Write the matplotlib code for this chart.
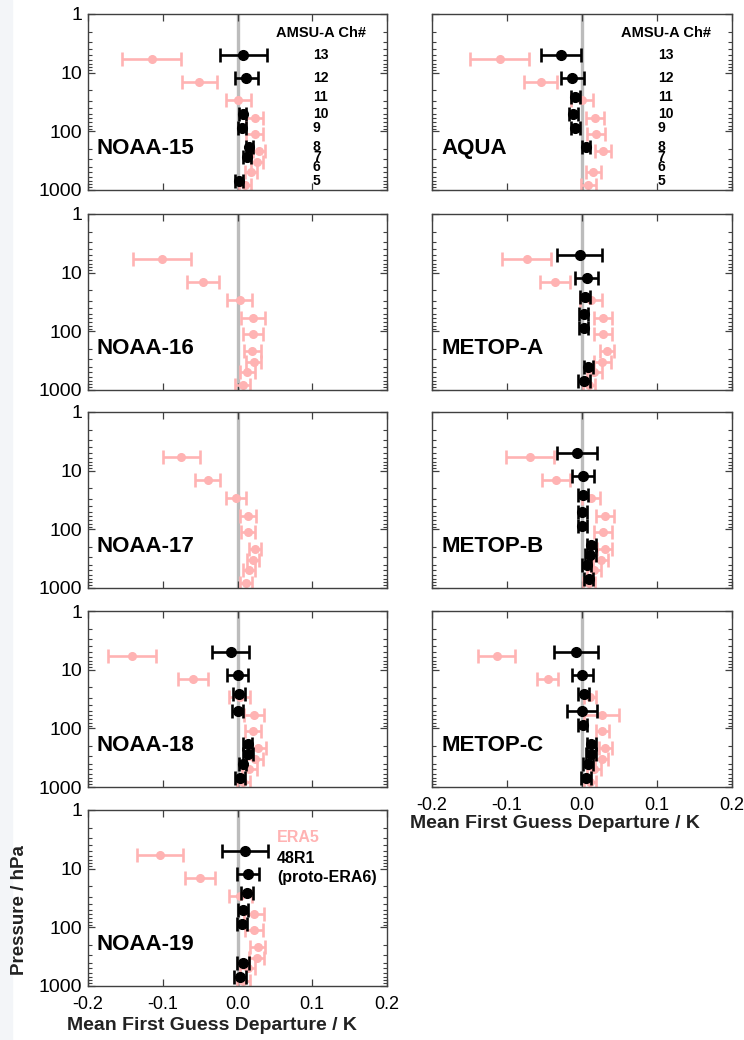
import numpy as np
import matplotlib
matplotlib.use("Agg")
import matplotlib.pyplot as plt
from matplotlib.ticker import LogLocator, NullFormatter, FixedLocator

plt.rcParams['font.family'] = ['Liberation Sans', 'DejaVu Sans']
plt.rcParams['axes.unicode_minus'] = False

nan = np.nan

# AMSU-A channels, top (13) to bottom (5)
channels = ['13', '12', '11', '10', '9', '8', '7', '6', '5']
era5_p = [5.9, 14.2, 29, 59, 109, 213, 328, 486, 828]
r48_p = [5.0, 12.5, 25.6, 51, 89, 182, 269, 410, 700]

satellites = ['NOAA-15', 'AQUA', 'NOAA-16', 'METOP-A', 'NOAA-17',
              'METOP-B', 'NOAA-18', 'METOP-C', 'NOAA-19']

era5_mean = [
    [-0.115, -0.051, 0.001, 0.023, 0.023, 0.029, 0.026, 0.018, 0.010],
    [-0.110, -0.055, 0.000, 0.017, 0.019, 0.028, nan, 0.015, 0.008],
    [-0.101, -0.046, 0.003, 0.021, 0.021, 0.020, 0.022, 0.013, 0.007],
    [-0.074, -0.036, 0.012, 0.028, 0.028, 0.033, 0.027, 0.016, 0.009],
    [-0.075, -0.040, -0.002, 0.014, 0.014, 0.023, 0.021, 0.016, 0.012],
    [-0.069, -0.035, 0.012, 0.030, 0.028, 0.030, 0.025, 0.016, 0.009],
    [-0.141, -0.059, 0.003, 0.022, 0.021, 0.028, 0.023, 0.016, 0.008],
    [-0.114, -0.046, 0.010, 0.026, 0.027, 0.031, 0.026, 0.016, 0.010],
    [-0.104, -0.050, 0.004, 0.022, 0.022, 0.027, 0.026, 0.014, 0.008],
]
era5_err = [
    [0.039, 0.023, 0.017, 0.011, 0.011, 0.008, 0.008, 0.008, 0.008],
    [0.039, 0.022, 0.015, 0.012, 0.012, 0.011, nan, 0.010, 0.010],
    [0.039, 0.021, 0.017, 0.016, 0.013, 0.011, 0.010, 0.010, 0.010],
    [0.033, 0.020, 0.015, 0.012, 0.012, 0.009, 0.011, 0.010, 0.008],
    [0.025, 0.017, 0.014, 0.011, 0.009, 0.008, 0.008, 0.008, 0.008],
    [0.032, 0.019, 0.012, 0.012, 0.012, 0.010, 0.010, 0.009, 0.008],
    [0.032, 0.020, 0.014, 0.013, 0.011, 0.010, 0.011, 0.010, 0.009],
    [0.025, 0.014, 0.008, 0.023, 0.009, 0.009, 0.009, 0.009, 0.008],
    [0.031, 0.020, 0.015, 0.013, 0.012, 0.010, 0.010, 0.010, 0.009],
]
r48_mean = [
    [0.008, 0.012, nan, 0.007, 0.006, 0.016, 0.013, nan, 0.002],
    [-0.028, -0.013, -0.009, -0.012, -0.009, 0.005, nan, nan, nan],
    [nan] * 9,
    [-0.003, 0.006, 0.004, 0.002, 0.002, nan, nan, 0.008, 0.002],
    [nan] * 9,
    [-0.007, 0.001, 0.001, 0.000, 0.000, 0.012, 0.011, 0.006, 0.009],
    [-0.009, 0.000, 0.002, 0.000, nan, 0.014, 0.014, 0.007, 0.003],
    [-0.008, 0.000, 0.002, 0.000, 0.001, 0.012, 0.012, 0.008, 0.005],
    [0.010, 0.014, 0.013, 0.007, 0.006, nan, nan, 0.007, 0.003],
]
r48_err = [
    [0.032, 0.016, nan, 0.005, 0.005, 0.005, 0.005, nan, 0.006],
    [0.027, 0.015, 0.006, 0.006, 0.006, 0.005, nan, nan, nan],
    [nan] * 9,
    [0.030, 0.015, 0.007, 0.006, 0.006, nan, nan, 0.006, 0.008],
    [nan] * 9,
    [0.027, 0.015, 0.007, 0.006, 0.006, 0.006, 0.007, 0.006, 0.006],
    [0.025, 0.014, 0.008, 0.007, nan, 0.006, 0.007, 0.005, 0.007],
    [0.029, 0.014, 0.007, 0.020, 0.006, 0.006, 0.007, 0.007, 0.007],
    [0.031, 0.015, 0.008, 0.007, 0.007, nan, nan, 0.008, 0.008],
]

pink = '#ffb3b3'
W, H = 744, 1040
fig = plt.figure(figsize=(W / 100, H / 100), dpi=100)
fig.patches.append(plt.Rectangle((0, 0), 12 / W, 1, transform=fig.transFigure,
                                 color='#f3f5f8', zorder=-1))

col_x = [88, 432]
col_w = [299, 300]
row_top = [14, 214, 412, 611, 810]
ax_h = 176

for i, sat in enumerate(satellites):
    row, col = i // 2, i % 2
    left = col_x[col] / W
    bottom = 1 - (row_top[row] + ax_h) / H
    ax = fig.add_axes([left, bottom, col_w[col] / W, ax_h / H])

    ax.axvline(0, color='#bcbcbc', lw=2.4, zorder=1)
    ax.errorbar(era5_mean[i], era5_p, xerr=era5_err[i], fmt='o', color=pink,
                ms=5.5, elinewidth=1.9, capsize=5, capthick=1.9, zorder=2)
    ax.errorbar(r48_mean[i], r48_p, xerr=r48_err[i], fmt='o', color='black',
                ms=7, elinewidth=1.9, capsize=5, capthick=1.9, zorder=3)

    ax.set_yscale('log')
    ax.set_ylim(1000, 1)
    ax.set_xlim(-0.2, 0.2)
    ax.xaxis.set_major_locator(FixedLocator([-0.2, -0.1, 0.0, 0.1, 0.2]))
    ax.yaxis.set_major_locator(FixedLocator([1, 10, 100, 1000]))
    ax.yaxis.set_minor_locator(LogLocator(base=10, subs=np.arange(2, 10)))
    ax.yaxis.set_minor_formatter(NullFormatter())
    ax.tick_params(which='both', direction='in', top=True, right=True,
                   color='#404040')
    ax.tick_params(which='major', length=5, width=0.9)
    ax.tick_params(which='minor', length=3, width=0.8)
    ax.tick_params(axis='y', labelsize=14, pad=4)
    ax.tick_params(axis='x', labelsize=13, pad=7)
    for s in ax.spines.values():
        s.set_color('#404040')
        s.set_linewidth(1.0)

    if col == 0:
        ax.set_yticklabels(['1', '10', '100', '1000'])
    else:
        ax.set_yticklabels([])
    if sat in ('METOP-C', 'NOAA-19'):
        ax.set_xticklabels(['-0.2', '-0.1', '0.0', '0.1', '0.2'])
    else:
        ax.set_xticklabels([])

    ax.text(0.03, 0.235, sat, transform=ax.transAxes, fontsize=16,
            fontweight='bold', va='center', ha='left')

    if sat in ('NOAA-15', 'AQUA'):
        ax.text(0.052, 2.1, 'AMSU-A Ch#', fontsize=10.5, fontweight='bold',
                va='center', ha='left')
        for ch, p in zip(channels, r48_p):
            ax.text(0.101, p, ch, fontsize=10, fontweight='bold',
                    va='center', ha='left')

    if sat == 'NOAA-19':
        ax.text(0.053, 2.9, 'ERA5', color=pink, fontsize=11.5,
                fontweight='bold', va='center', ha='left')
        ax.text(0.053, 6.6, '48R1', color='black', fontsize=11.5,
                fontweight='bold', va='center', ha='left')
        ax.text(0.053, 14.4, '(proto-ERA6)', color='black', fontsize=11.5,
                fontweight='bold', va='center', ha='left')

xlabel = 'Mean First Guess Departure / K'
fig.text(212 / W, 1 - 1025 / H, xlabel, fontsize=14, fontweight='bold',
         color='#222222', ha='center', va='center')
fig.text(555 / W, 1 - 823 / H, xlabel, fontsize=14, fontweight='bold',
         color='#222222', ha='center', va='center')
fig.text(20 / W, 1 - 910 / H, 'Pressure / hPa', fontsize=13.5,
         fontweight='bold', color='#222222', rotation=90,
         ha='center', va='center')

fig.savefig('out.png', dpi=100)
